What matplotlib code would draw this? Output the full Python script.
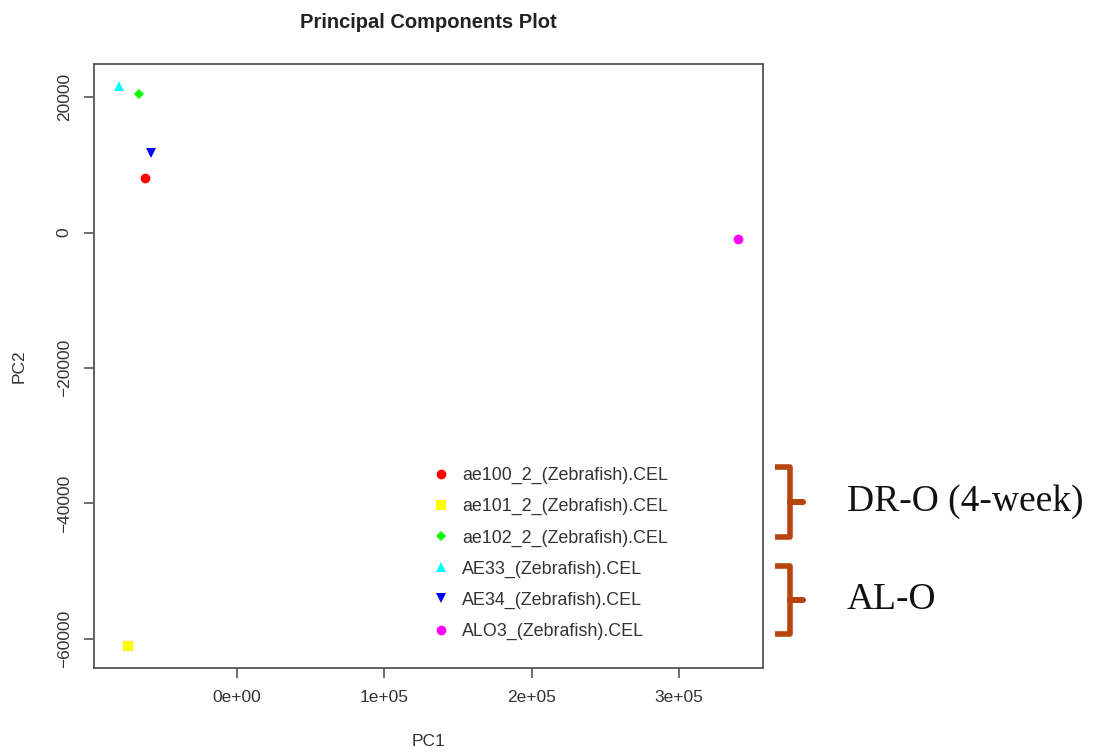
import matplotlib
matplotlib.use("Agg")
import matplotlib.pyplot as plt
from matplotlib.lines import Line2D

# sample scores
samples = ["ae100_2_(Zebrafish).CEL", "ae101_2_(Zebrafish).CEL", "ae102_2_(Zebrafish).CEL",
           "AE33_(Zebrafish).CEL", "AE34_(Zebrafish).CEL", "ALO3_(Zebrafish).CEL"]
pc1 = [-62000, -74000, -66000, -80000, -58000, 340000]
pc2 = [8000, -61000, 20400, 21600, 11700, -900]
colors = ["#ff0000", "#ffff00", "#00ff00", "#00ffff", "#0000ff", "#ff00ff"]
markers = ["o", "s", "D", "^", "v", "o"]
sizes = [7, 6.5, 5.5, 7.5, 7.5, 7]

groups = ["DR-O (4-week)", "AL-O"]

SANS = ["Liberation Sans", "DejaVu Sans"]
SERIF = ["Liberation Serif", "DejaVu Serif"]
GREY = "#555555"
TXT = "#333333"
BRACKET = "#b8440f"

W, H = 1093, 752
fig = plt.figure(figsize=(W / 100, H / 100), dpi=100)
ax = fig.add_axes([94 / W, 1 - 668 / H, (763 - 94) / W, (668 - 64) / H])

handles = []
for x, y, c, m, s, lab in zip(pc1, pc2, colors, markers, sizes, samples):
    h, = ax.plot([x], [y], linestyle="none", marker=m, color=c, markersize=s,
                 markeredgewidth=0, label=lab)
    handles.append(h)

# R style: 4% padding around data range
xr = max(pc1) - min(pc1)
yr = max(pc2) - min(pc2)
ax.set_xlim(min(pc1) - 0.04 * xr, max(pc1) + 0.04 * xr)
ax.set_ylim(min(pc2) - 0.04 * yr, max(pc2) + 0.04 * yr)

ax.set_xticks([0, 100000, 200000, 300000])
ax.set_xticklabels(["0e+00", "1e+05", "2e+05", "3e+05"])
ax.set_yticks([-60000, -40000, -20000, 0, 20000])
ax.set_yticklabels(["\u221260000", "\u221240000", "\u221220000", "0", "20000"],
                   rotation=90, va="center")

for sp in ax.spines.values():
    sp.set_color(GREY)
    sp.set_linewidth(1.3)
ax.tick_params(length=7, width=1.2, color=GREY, labelsize=12.5, labelcolor=TXT, pad=9)
for lbl in ax.get_xticklabels() + ax.get_yticklabels():
    lbl.set_family(SANS)

ax.set_xlabel("PC1", fontsize=12.5, color=TXT, family=SANS, labelpad=21)
ax.set_ylabel("PC2", fontsize=12.5, color=TXT, family=SANS, labelpad=22)
fig.text(428 / W, 1 - 22 / H, "Principal Components Plot", ha="center", va="center",
         fontsize=14.5, fontweight="bold", color="#222222", family=SANS)

leg = ax.legend(handles=handles, loc="upper left", frameon=False,
                bbox_to_anchor=(430 / W, 1 - 467 / H), bbox_transform=fig.transFigure,
                prop={"family": SANS, "size": 12.9}, labelspacing=0.78,
                handletextpad=0.6, handlelength=1.2, borderaxespad=0, borderpad=0)
for t in leg.get_texts():
    t.set_color(TXT)


# curly brackets and group names to the right, in figure pixels
def bracket(top, bottom):
    mid = (top + bottom) / 2
    xs = [775, 790, 790, 803, 790, 790, 775]
    ys = [top, top, mid, mid, mid, bottom, bottom]
    fig.add_artist(Line2D([x / W for x in xs], [1 - y / H for y in ys],
                          color=BRACKET, linewidth=4, solid_joinstyle="round",
                          solid_capstyle="butt"))
    return mid


for (top, bottom), name in zip([(467, 537), (566, 634)], groups):
    mid = bracket(top, bottom)
    fig.text(847 / W, 1 - mid / H, name, ha="left", va="center", fontsize=27,
             family=SERIF, color="#111111")

fig.savefig("out.png", dpi=100)
